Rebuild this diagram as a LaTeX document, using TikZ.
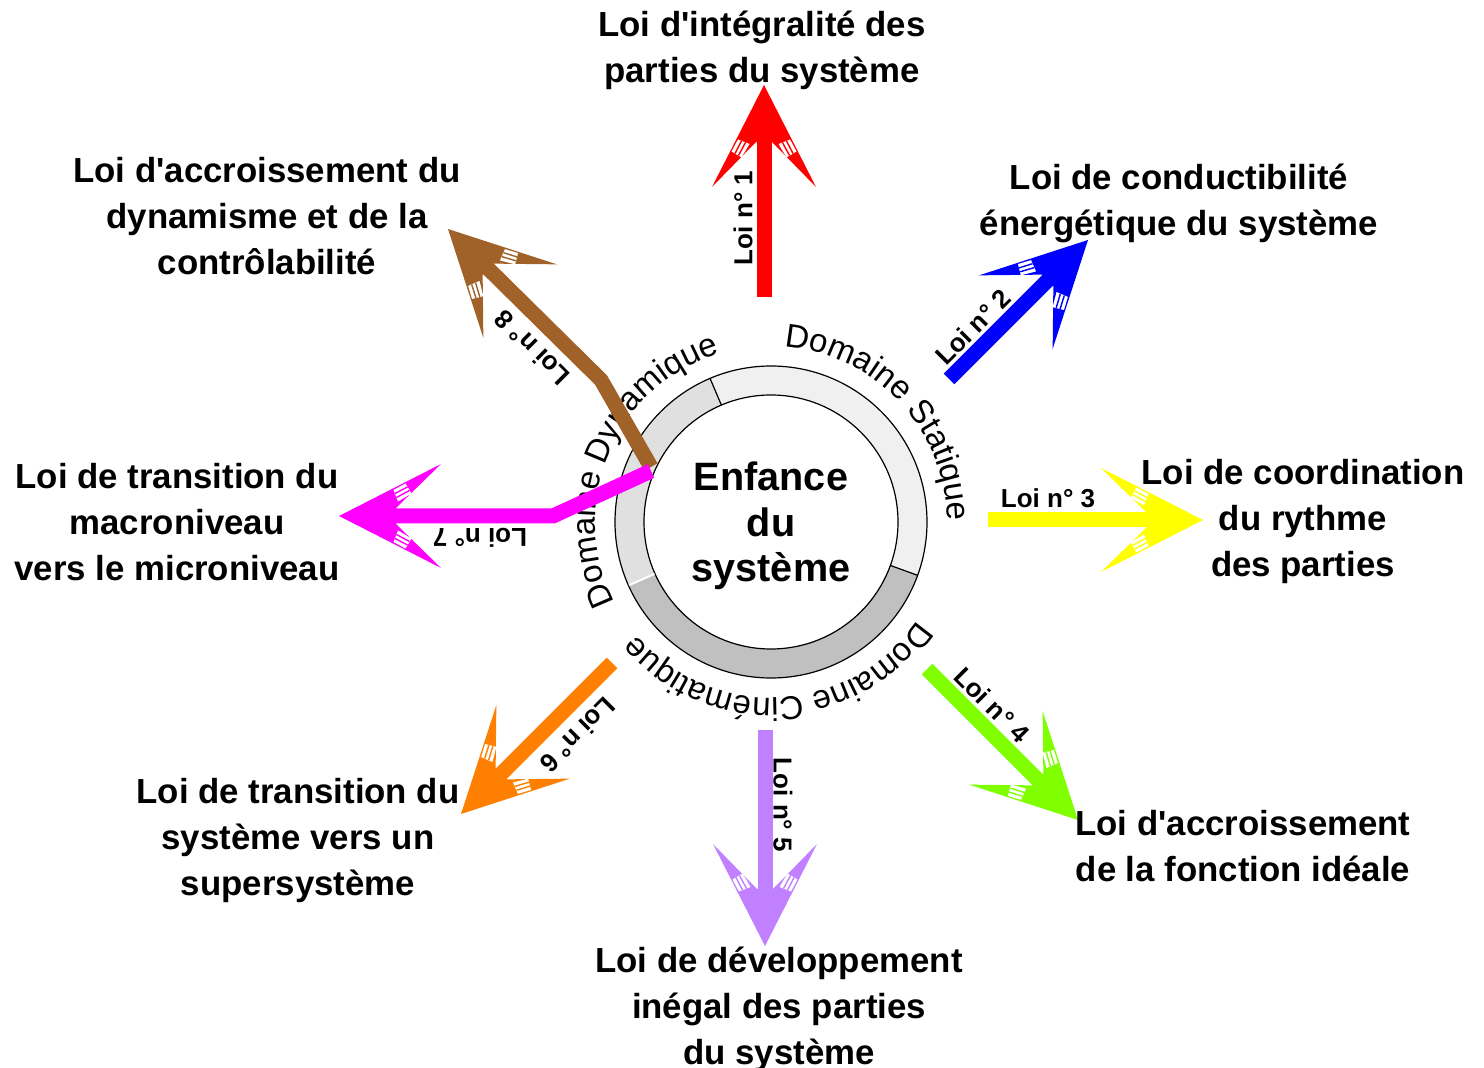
\documentclass[tikz,border=0pt]{standalone}
\usepackage{fontspec}
\newfontfamily\lsans{Liberation Sans}
\usetikzlibrary{calc,decorations.text}
\definecolor{cstat}{HTML}{F0F0F0}
\definecolor{cdyn}{HTML}{E0E0E0}
\definecolor{ccin}{HTML}{C0C0C0}
\definecolor{cred}{RGB}{255,0,0}
\definecolor{cblue}{RGB}{0,0,255}
\definecolor{cyel}{RGB}{255,255,0}
\definecolor{cgreen}{RGB}{128,255,0}
\definecolor{cpurp}{RGB}{192,128,255}
\definecolor{corange}{RGB}{255,128,0}
\definecolor{cmag}{RGB}{255,0,255}
\definecolor{cbrown}{RGB}{160,98,40}
\newcommand{\arcfont}{\lsans\fontsize{16.5}{19}\selectfont}
\begin{document}
\begin{tikzpicture}[x=0.5pt,y=-0.5pt,
  shaftline/.style={line width=7.5pt, line cap=butt, line join=miter},
  loilbl/.style={font=\lsans\bfseries\fontsize{13}{15}\selectfont, inner sep=0pt},
  lawtxt/.style={font=\lsans\bfseries\fontsize{17.4}{23}\selectfont, align=center, inner sep=0pt},
  centertxt/.style={font=\lsans\bfseries\fontsize{19.8}{22.8}\selectfont, align=center, inner sep=0pt},
  pics/fhead/.style={code={
    \fill[#1] (0,0) -- (-102,52) -- (-57,8) -- (-57,-8) -- (-102,-52) -- cycle;
    \foreach \s in {1,-1}{
      \begin{scope}[yscale=\s]
        \fill[white] (-72.5,22.5) -- (-66.5,32.5) -- (-54.5,26) -- (-59,14.5) -- cycle;
        \draw[#1, line width=0.7pt] (-70.5,25.5) -- (-57.5,18.5) (-68.5,29) -- (-56,22.5);
      \end{scope}
    }
  }}
]
\useasboundingbox (0,0) rectangle (1484,1068);

% ring
\begin{scope}[shift={(771,522)}]
  \fill[cstat] (-113:156) arc[start angle=-113,end angle=20,radius=156] -- (20:127) arc[start angle=20,end angle=-113,radius=127] -- cycle;
  \fill[ccin] (20:156) arc[start angle=20,end angle=156,radius=156] -- (156:127) arc[start angle=156,end angle=20,radius=127] -- cycle;
  \fill[cdyn] (156:156) arc[start angle=156,end angle=247,radius=156] -- (247:127) arc[start angle=247,end angle=156,radius=127] -- cycle;
  \draw[line width=0.6pt] (0,0) circle[radius=156];
  \draw[line width=0.6pt] (0,0) circle[radius=127];
  \draw[line width=0.6pt] (-113:127) -- (-113:156);
  \draw[line width=0.6pt] (20:127) -- (20:156);
  \draw[white, line width=1pt] (156:127.6) -- (156:155.4);
  \path[decorate, decoration={text along path, text align=center, text={|\arcfont|Domaine Statique}}]
    (-103:176) arc[start angle=-103, end angle=17, radius=176];
  \path[decorate, decoration={text along path, text align=center, text={|\arcfont|Domaine Dynamique}}]
    (-217:176) arc[start angle=-217, end angle=-97, radius=176];
  \path[decorate, decoration={text along path, text align=center, text={|\arcfont|Domaine Cinématique}}]
    (27:176) arc[start angle=27, end angle=147, radius=176];
\end{scope}

% coordinates
\coordinate (s1) at (764,297); \coordinate (t1) at (764,85);
\coordinate (s2) at (949,379); \coordinate (t2) at (1088,240);
\coordinate (s3) at (988,520); \coordinate (t3) at (1203,520);
\coordinate (s4) at (927,669); \coordinate (t4) at (1078,820);
\coordinate (s5) at (765,730); \coordinate (t5) at (765,946);
\coordinate (s6) at (612,663); \coordinate (t6) at (461,814);
\coordinate (s7) at (651,471); \coordinate (b7) at (553,516); \coordinate (t7) at (339,516);
\coordinate (s8) at (651,467); \coordinate (b8) at (601,380); \coordinate (t8) at (448,229);

% arrows
\draw[shaftline, cred] (s1) -- ($(t1)!27.5pt!(s1)$);
\pic[rotate=90] at (t1) {fhead=cred};
\draw[shaftline, cblue] (s2) -- ($(t2)!27.5pt!(s2)$);
\pic[rotate=45] at (t2) {fhead=cblue};
\draw[shaftline, cyel] (s3) -- ($(t3)!27.5pt!(s3)$);
\pic[rotate=0] at (t3) {fhead=cyel};
\draw[shaftline, cgreen] (s4) -- ($(t4)!27.5pt!(s4)$);
\pic[rotate=-45] at (t4) {fhead=cgreen};
\draw[shaftline, cpurp] (s5) -- ($(t5)!27.5pt!(s5)$);
\pic[rotate=-90] at (t5) {fhead=cpurp};
\draw[shaftline, corange] (s6) -- ($(t6)!27.5pt!(s6)$);
\pic[rotate=225] at (t6) {fhead=corange};
\draw[shaftline, cbrown] (s8) -- (b8) -- ($(t8)!27.5pt!(b8)$);
\pic[rotate=135] at (t8) {fhead=cbrown};
\draw[shaftline, cmag] (s7) -- (b7) -- ($(t7)!27.5pt!(b7)$);
\pic[rotate=180] at (t7) {fhead=cmag};

% law number labels
\node[loilbl, rotate=90] (n1) at (743,218) {Loi n° 1};
\node[loilbl, rotate=45] (n2) at (973,327) {Loi n° 2};
\node[loilbl] (n3) at (1048,498) {Loi n° 3};
\node[loilbl, rotate=-45] (n4) at (992,705) {Loi n° 4};
\node[loilbl, rotate=-90] (n5) at (783,805) {Loi n° 5};
\node[loilbl, rotate=225] (n6) at (578,735) {Loi n° 6};
\node[loilbl, rotate=180] (n7) at (480,538) {Loi n° 7};
\node[loilbl, rotate=135] (n8) at (532,348) {Loi n° 8};

% centre
\node[centertxt] (ctr) at (771,526) {Enfance\\du\\système};

% law texts
\node[lawtxt] (l1) at (762,50) {Loi d'intégralité des\\parties du système};
\node[lawtxt] (l2) at (1179,203) {Loi de conductibilité\\énergétique du système};
\node[lawtxt] (l3) at (1303,522) {Loi de coordination\\du rythme\\des parties};
\node[lawtxt] (l4) at (1243,846) {Loi d'accroissement\\de la fonction idéale};
\node[lawtxt] (l5) at (779,1009) {Loi de développement\\inégal des parties\\du système};
\node[lawtxt] (l6) at (298,841) {Loi de transition du\\système vers un\\supersystème};
\node[lawtxt] (l7) at (177,522) {Loi de transition du\\macroniveau\\vers le microniveau};
\node[lawtxt] (l8) at (267,216) {Loi d'accroissement du\\dynamisme et de la\\contrôlabilité};
\end{tikzpicture}
\end{document}
